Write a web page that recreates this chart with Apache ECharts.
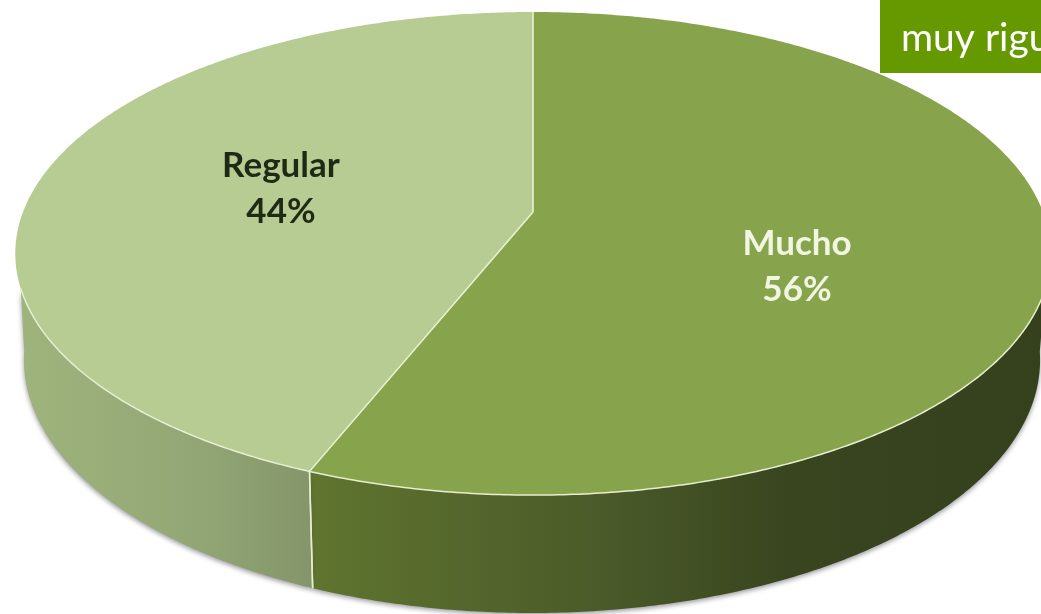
<!DOCTYPE html>
<html>
<head>
<meta charset="utf-8">
<style>html,body{margin:0;padding:0;background:#fff;overflow:hidden}#c{width:1041px;height:614px}</style>
<script src="https://cdn.jsdelivr.net/npm/echarts@6/dist/echarts.min.js"></script>
</head>
<body>
<div id="c"></div>
<script>
var categories = ['Mucho', 'Regular'];
var values = [56, 44];
var boxLabel = 'muy rigu';

var topFaces = ['#87a34b', '#b7cc93'];
var labelColors = ['#f1f6e2', '#1f2a15'];
var labelCentres = [[797, 267], [281, 189]];
var wallStops = [
  [[0, '#60752f'], [0.4, '#4a5a29'], [0.65, '#39451f'], [1, '#35411d']],
  [[0, '#9fb37c'], [0.55, '#94a877'], [1, '#849669']]
];
var wallRange = [[108, 98], [252, 262]];

var K = 0.172;
var TOP = {cx: 533, cy: 212, a: 510, b: 234.4};
var BASE = {cx: 532, cy: 316.5, a: 500.5, b: 245.5};
var EDGE = '#e6eed0';

function project(p, deg, r) {
  var t = deg * Math.PI / 180, u = Math.sin(t) * r, v = -Math.cos(t) * r, d = 1 - K * v;
  return [p.cx + p.a * u / d, p.cy + p.b * v / d];
}
function arc(p, from, to) {
  var pts = [], n = Math.max(2, Math.ceil(Math.abs(to - from) * 2));
  for (var i = 0; i <= n; i++) pts.push(project(p, from + (to - from) * i / n, 1));
  return pts;
}
var total = values.reduce(function (a, b) { return a + b; }, 0);

function renderSlice(params, api) {
  var i = params.dataIndex;
  var before = 0;
  for (var j = 0; j < i; j++) before += values[j];
  var start = before / total * 360;
  var end = start + api.value(0) / total * 360;
  var apex = [TOP.cx, TOP.cy];
  var face = [apex].concat(arc(TOP, start, end));

  var boundary = i === 0 ? end : start;
  var wTop = i === 0 ? arc(TOP, wallRange[0][0], boundary) : arc(TOP, boundary, wallRange[1][0]);
  var wBase = i === 0 ? arc(BASE, wallRange[0][1], boundary) : arc(BASE, boundary, wallRange[1][1]);
  var wall = wTop.concat(wBase.slice().reverse());
  var stops = wallStops[i].map(function (s) { return {offset: s[0], color: s[1]}; });
  var grad = new echarts.graphic.LinearGradient(0, 0, 1, 0, stops);

  var pctY = 23;
  var c = labelCentres[i];
  var rimLine = i === 0 ? arc(TOP, wallRange[0][0], end) : arc(TOP, start, wallRange[1][0]);
  var seam = [project(TOP, boundary, 1), project(BASE, boundary, 1)];

  return {
    type: 'group',
    children: [
      {type: 'polygon', shape: {points: wall}, z2: 1,
        style: {fill: grad, shadowBlur: 5, shadowColor: 'rgba(70,70,80,0.55)', shadowOffsetX: 0, shadowOffsetY: 2}},
      {type: 'polygon', shape: {points: face}, z2: 3, style: {fill: topFaces[i]}},
      {type: 'polyline', shape: {points: rimLine}, z2: 4, style: {fill: null, stroke: EDGE, lineWidth: 1.5}},
      {type: 'polyline', shape: {points: seam}, z2: 2, style: {fill: null, stroke: EDGE, lineWidth: 1.5}},
      {type: 'polyline', shape: {points: [apex, seam[0]]}, z2: 4, style: {fill: null, stroke: EDGE, lineWidth: 1.2}},
      {type: 'polyline', shape: {points: [apex, project(TOP, 0, 1)]}, z2: 4, style: {fill: null, stroke: EDGE, lineWidth: 1.2}},
      {type: 'text', z2: 5, style: {x: c[0], y: c[1] - pctY, text: categories[i], fill: labelColors[i],
        font: 'bold 35px Lato', align: 'center', verticalAlign: 'middle'}},
      {type: 'text', z2: 5, style: {x: c[0], y: c[1] + pctY, text: api.value(0) + '%', fill: labelColors[i],
        font: 'bold 35px Lato', align: 'center', verticalAlign: 'middle'}}
    ]
  };
}

var chart = echarts.init(document.getElementById('c'), null, {renderer: 'canvas'});
chart.setOption({
  animation: false,
  backgroundColor: '#ffffff',
  tooltip: {show: false},
  series: [{
    type: 'custom',
    coordinateSystem: 'none',
    renderItem: renderSlice,
    clip: false,
    silent: true,
    data: values.map(function (v) { return [v]; })
  }],
  graphic: [
    {type: 'rect', z: 100, shape: {x: 880, y: 0, width: 161, height: 73}, style: {fill: '#669900'}},
    {type: 'text', z: 101, style: {x: 901, y: 38, text: boxLabel, fill: '#ffffff', font: '39px Lato',
      align: 'left', verticalAlign: 'middle'}}
  ]
});
</script>
</body>
</html>
